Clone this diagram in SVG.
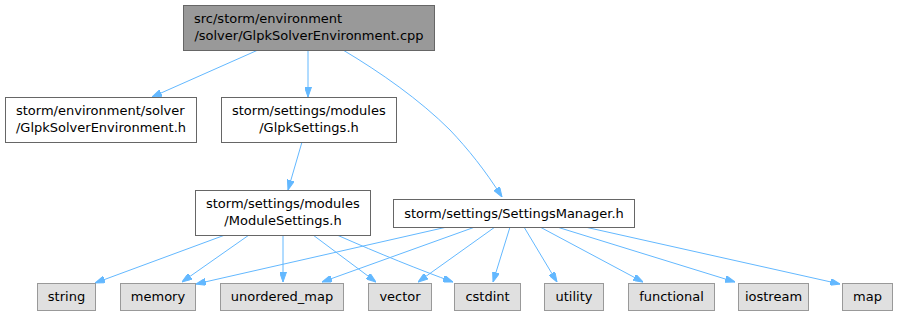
<svg xmlns="http://www.w3.org/2000/svg" width="898" height="316" viewBox="0 0 898 316">
<style>
text{font-family:"DejaVu Sans","Liberation Sans",sans-serif;font-size:13px;fill:#000}
.n{fill:#fff;stroke:#666}
.r{fill:#999;stroke:#666}
.g{fill:#e0e0e0;stroke:#999}
.e path{fill:none;stroke:#63b8ff;stroke-width:1;marker-end:url(#a)}
.m{text-anchor:middle}
</style>
<defs>
<marker id="a" viewBox="0 0 10 7" refX="10" refY="3.5" markerWidth="10" markerHeight="7" markerUnits="userSpaceOnUse" orient="auto">
<path d="M0,0 L10,3.5 L0,7 z" fill="#63b8ff" stroke="#63b8ff"/>
</marker>
</defs>
<g class="e" id="edges">
<path d="M258,50 L152,97"/>
<path d="M308,50 L308,97"/>
<path d="M343,50 C380,72 420,100 450,130 C468,149 485,170 502,197"/>
<path d="M302,142 L288,190"/>
<path d="M225,235 L95,283"/>
<path d="M249,235 L182,282"/>
<path d="M283,235 L283,282"/>
<path d="M313,235 L376,282"/>
<path d="M337,235 C380,254 420,270 453,282"/>
<path d="M447,227 L196,284"/>
<path d="M475,227 L322,282"/>
<path d="M495,227 L418,282"/>
<path d="M510,227 L493,282"/>
<path d="M524,227 L557,282"/>
<path d="M540,227 L643,282"/>
<path d="M557,227 L735,282"/>
<path d="M585,227 L840,284"/>
</g>
<g id="root"><rect class="r" x="183.5" y="5.5" width="251" height="45"/><text x="194" y="23">src/storm/environment</text><text class="m" x="309" y="40">/solver/GlpkSolverEnvironment.cpp</text></g>
<g id="glpkenv"><rect class="n" x="5.5" y="97.5" width="191" height="45"/><text x="16" y="115">storm/environment/solver</text><text class="m" x="101" y="132">/GlpkSolverEnvironment.h</text></g>
<g id="glpksettings"><rect class="n" x="221.5" y="97.5" width="175" height="45"/><text x="232" y="115">storm/settings/modules</text><text class="m" x="309" y="132">/GlpkSettings.h</text></g>
<g id="modulesettings"><rect class="n" x="195.5" y="190.5" width="175" height="45"/><text x="206" y="208">storm/settings/modules</text><text class="m" x="283" y="225">/ModuleSettings.h</text></g>
<g id="settingsmanager"><rect class="n" x="393.5" y="199.5" width="241" height="28"/><text class="m" x="514" y="218">storm/settings/SettingsManager.h</text></g>
<g id="string"><rect class="g" x="37.5" y="283.5" width="58" height="27"/><text class="m" x="66.5" y="301">string</text></g>
<g id="memory"><rect class="g" x="120.5" y="283.5" width="75" height="27"/><text class="m" x="158" y="301">memory</text></g>
<g id="unordered_map"><rect class="g" x="220.5" y="283.5" width="123" height="27"/><text class="m" x="282" y="301">unordered_map</text></g>
<g id="vector"><rect class="g" x="368.5" y="283.5" width="63" height="27"/><text class="m" x="400" y="301">vector</text></g>
<g id="cstdint"><rect class="g" x="454.5" y="283.5" width="66" height="27"/><text class="m" x="487.5" y="301">cstdint</text></g>
<g id="utility"><rect class="g" x="544.5" y="283.5" width="59" height="27"/><text class="m" x="574" y="301">utility</text></g>
<g id="functional"><rect class="g" x="628.5" y="283.5" width="86" height="27"/><text class="m" x="671.5" y="301">functional</text></g>
<g id="iostream"><rect class="g" x="738.5" y="283.5" width="70" height="27"/><text class="m" x="773.5" y="301">iostream</text></g>
<g id="map"><rect class="g" x="842.5" y="283.5" width="50" height="27"/><text class="m" x="867.5" y="301">map</text></g>
</svg>
